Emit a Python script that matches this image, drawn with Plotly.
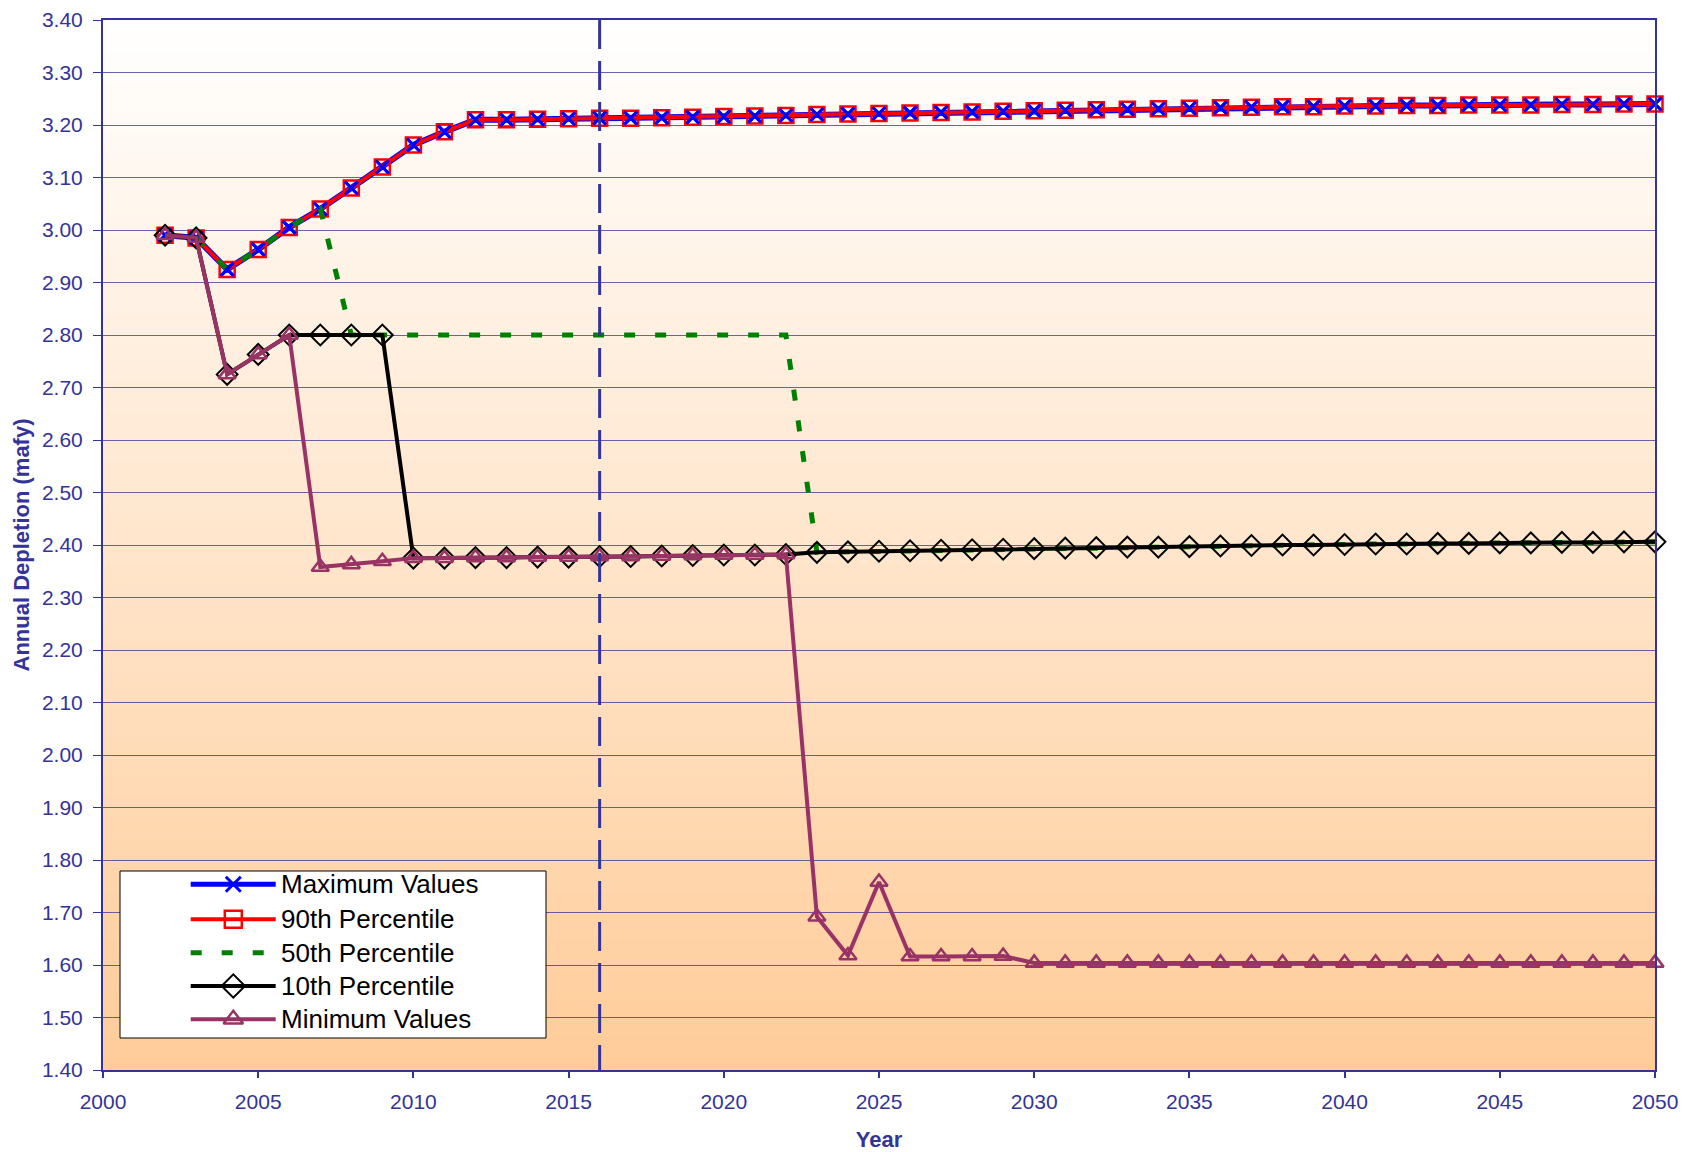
import plotly.graph_objects as go

# ---------------- data ----------------
years = list(range(2002, 2051))

max_values = [2.990, 2.985, 2.925, 2.963, 3.005, 3.040, 3.080, 3.120, 3.162, 3.187,
              3.210, 3.210, 3.211, 3.212, 3.213, 3.213, 3.214, 3.215, 3.216, 3.217,
              3.218, 3.220, 3.221, 3.222, 3.223, 3.224, 3.225, 3.226, 3.227, 3.228,
              3.229, 3.230, 3.231, 3.232, 3.233, 3.234, 3.235, 3.235, 3.236, 3.236,
              3.237, 3.237, 3.238, 3.238, 3.238, 3.239, 3.239, 3.240, 3.240]

p90_values = [2.990, 2.985, 2.925, 2.963, 3.005, 3.040, 3.080, 3.120, 3.162, 3.187,
              3.210, 3.210, 3.211, 3.212, 3.213, 3.213, 3.214, 3.215, 3.216, 3.217,
              3.218, 3.220, 3.221, 3.222, 3.223, 3.224, 3.225, 3.226, 3.227, 3.228,
              3.229, 3.230, 3.231, 3.232, 3.233, 3.234, 3.235, 3.235, 3.236, 3.236,
              3.237, 3.237, 3.238, 3.238, 3.238, 3.239, 3.239, 3.240, 3.240]

p50_values = [2.990, 2.985, 2.925, 2.963, 3.005, 3.040, 2.800, 2.800, 2.800, 2.800,
              2.800, 2.800, 2.800, 2.800, 2.800, 2.800, 2.800, 2.800, 2.800, 2.800,
              2.800, 2.386, 2.387, 2.388, 2.389, 2.390, 2.391, 2.392, 2.393, 2.394,
              2.395, 2.396, 2.396, 2.397, 2.398, 2.399, 2.400, 2.400, 2.401, 2.402,
              2.402, 2.403, 2.403, 2.404, 2.404, 2.405, 2.405, 2.406, 2.406]

p10_values = [2.990, 2.985, 2.725, 2.763, 2.800, 2.800, 2.800, 2.800, 2.375, 2.375,
              2.376, 2.376, 2.377, 2.377, 2.378, 2.378, 2.379, 2.380, 2.381, 2.381,
              2.382, 2.386, 2.387, 2.388, 2.389, 2.390, 2.391, 2.392, 2.393, 2.394,
              2.395, 2.396, 2.396, 2.397, 2.398, 2.399, 2.400, 2.400, 2.401, 2.402,
              2.402, 2.403, 2.403, 2.404, 2.404, 2.405, 2.405, 2.406, 2.406]

min_values = [2.990, 2.985, 2.725, 2.763, 2.800, 2.358, 2.363, 2.369, 2.375, 2.375,
              2.376, 2.376, 2.377, 2.377, 2.378, 2.378, 2.379, 2.380, 2.381, 2.381,
              2.382, 1.692, 1.618, 1.758, 1.616, 1.616, 1.616, 1.617, 1.604, 1.604,
              1.604, 1.604, 1.604, 1.604, 1.604, 1.604, 1.604, 1.604, 1.604, 1.604,
              1.604, 1.604, 1.604, 1.604, 1.604, 1.604, 1.604, 1.604, 1.604]

series_names = ["Maximum Values", "90th Percentile", "50th Percentile",
                "10th Percentile", "Minimum Values"]

current_year = 2016
x_range = [2000, 2050]
y_range = [1.40, 3.40]
y_ticks = [round(1.40 + 0.1 * i, 2) for i in range(21)]
x_ticks = [2000, 2005, 2010, 2015, 2020, 2025, 2030, 2035, 2040, 2045, 2050]

# ---------------- styles ----------------
NAVY = "#333399"
FONT = "Liberation Sans, Arial, sans-serif"
BLUE = "#0000FF"
RED = "#FF0000"
GREEN = "#008000"
PLUM = "#993366"

# page body has an 8px margin, so the figure is 16px smaller than the window
W, H = 1687, 1144
ML, MR, MT, MB = 95, 40, 12, 82
PW, PH = W - ML - MR, H - MT - MB   # plot area in px

styles = [
    dict(line=dict(color=BLUE, width=6),
         marker=dict(symbol="x-thin-open", size=13, color=BLUE, line=dict(color=BLUE, width=3)),
         mode="lines+markers"),
    dict(line=dict(color=RED, width=4),
         marker=dict(symbol="square-open", size=15, color=RED, line=dict(color=RED, width=2.5)),
         mode="lines+markers"),
    dict(line=dict(color=GREEN, width=5, dash="11px,20px"), mode="lines"),
    dict(line=dict(color="black", width=4),
         marker=dict(symbol="diamond-open", size=16, color="black", line=dict(color="black", width=2)),
         mode="lines+markers"),
    dict(line=dict(color=PLUM, width=4),
         marker=dict(symbol="triangle-up-open", size=15, color=PLUM, line=dict(color=PLUM, width=2.5)),
         mode="lines+markers"),
]
series_values = [max_values, p90_values, p50_values, p10_values, min_values]

fig = go.Figure()

# draw order: max, 90th, (max markers again on top), 50th, 10th, min
for i, vals in enumerate(series_values):
    st = styles[i]
    fig.add_trace(go.Scatter(x=years, y=vals, name=series_names[i], mode=st["mode"],
                             line=st["line"], marker=st.get("marker"),
                             cliponaxis=False, showlegend=False))
    if i == 1:
        fig.add_trace(go.Scatter(x=years, y=max_values, mode="markers", showlegend=False,
                                 hoverinfo="skip", marker=styles[0]["marker"], cliponaxis=False))

# ---------------- custom legend on an overlay pixel axis ----------------
LEG_BOX = dict(x0=17, x1=443, y0=32, y1=199)      # px within plot area (from bottom-left)
LEG_ROWS = [185.7, 150.7, 117.3, 84.0, 50.7]
LEG_LINE_X = [87.7, 172.7]
LEG_MARK_X = 130.3
LEG_TEXT_X = 176

fig.add_trace(go.Scatter(
    x=[LEG_BOX["x0"], LEG_BOX["x1"], LEG_BOX["x1"], LEG_BOX["x0"], LEG_BOX["x0"]],
    y=[LEG_BOX["y0"], LEG_BOX["y0"], LEG_BOX["y1"], LEG_BOX["y1"], LEG_BOX["y0"]],
    mode="lines", fill="toself", fillcolor="white", line=dict(color="black", width=1),
    xaxis="x2", yaxis="y2", showlegend=False, hoverinfo="skip", cliponaxis=False))

annotations = []
for i, name in enumerate(series_names):
    st = styles[i]
    ry = LEG_ROWS[i]
    lw = st["line"]
    if i == 0:
        lw = dict(color=BLUE, width=5)
    fig.add_trace(go.Scatter(x=LEG_LINE_X, y=[ry, ry], mode="lines", line=lw,
                             xaxis="x2", yaxis="y2", showlegend=False, hoverinfo="skip",
                             cliponaxis=False))
    if "marker" in st:
        mk = dict(st["marker"])
        mk["size"] = mk["size"] + 2
        fig.add_trace(go.Scatter(x=[LEG_MARK_X], y=[ry], mode="markers", marker=mk,
                                 xaxis="x2", yaxis="y2", showlegend=False, hoverinfo="skip",
                                 cliponaxis=False))
    annotations.append(dict(text=name, x=LEG_TEXT_X, y=ry, xref="x2", yref="y2",
                            xanchor="left", yanchor="middle", showarrow=False,
                            font=dict(family=FONT, size=26, color="black")))

# ---------------- gradient background ----------------
shapes = []
n_bands = 160
top_rgb = (255, 255, 255)
bot_rgb = (255, 204, 153)
for i in range(n_bands):
    t = (i + 0.5) / n_bands
    r = round(top_rgb[0] + (bot_rgb[0] - top_rgb[0]) * t)
    g = round(top_rgb[1] + (bot_rgb[1] - top_rgb[1]) * t)
    b = round(top_rgb[2] + (bot_rgb[2] - top_rgb[2]) * t)
    y1 = 1 - i / n_bands
    y0 = 1 - (i + 1) / n_bands - 0.001
    shapes.append(dict(type="rect", xref="x domain", yref="y domain",
                       x0=0, x1=1, y0=max(y0, 0), y1=y1, layer="below",
                       line=dict(width=0), fillcolor=f"rgb({r},{g},{b})"))

# vertical dashed line at current year
shapes.append(dict(type="line", xref="x", yref="y domain",
                   x0=current_year, x1=current_year, y0=1, y1=0,
                   line=dict(color=NAVY, width=3, dash="29px,12px"), layer="above"))

fig.update_layout(
    width=W, height=H,
    margin=dict(l=ML, r=MR, t=MT, b=MB),
    paper_bgcolor="white",
    plot_bgcolor="#FFE6CC",
    font=dict(family=FONT, color=NAVY, size=21),
    shapes=shapes,
    annotations=annotations,
    showlegend=False,
    xaxis=dict(
        range=x_range, tickvals=x_ticks, showgrid=False, zeroline=False, automargin=False,
        showline=True, linecolor=NAVY, linewidth=2, mirror=True,
        ticks="outside", ticklen=6, tickwidth=1.5, tickcolor=NAVY,
        tickfont=dict(family=FONT, size=21, color=NAVY),
        ticklabelstandoff=6, ticklabeloverflow="allow",
        title=dict(text="<b>Year</b>", font=dict(family=FONT, size=22, color=NAVY), standoff=19),
    ),
    yaxis=dict(
        range=y_range, tickvals=y_ticks, tickformat=".2f", automargin=False,
        showgrid=True, gridcolor="rgba(51,51,153,0.75)", gridwidth=1.2, zeroline=False,
        showline=True, linecolor=NAVY, linewidth=2, mirror=True,
        ticks="outside", ticklen=8, tickwidth=1.2, tickcolor=NAVY,
        tickfont=dict(family=FONT, size=21, color=NAVY),
        ticklabelstandoff=6, ticklabeloverflow="allow",
        title=dict(text="<b>Annual Depletion (mafy)</b>", font=dict(family=FONT, size=22, color=NAVY), standoff=6),
    ),
    xaxis2=dict(range=[0, PW], overlaying="x", anchor="y2", visible=False, fixedrange=True),
    yaxis2=dict(range=[0, PH], overlaying="y", anchor="x2", visible=False, fixedrange=True),
)

fig.write_html("out.html")
